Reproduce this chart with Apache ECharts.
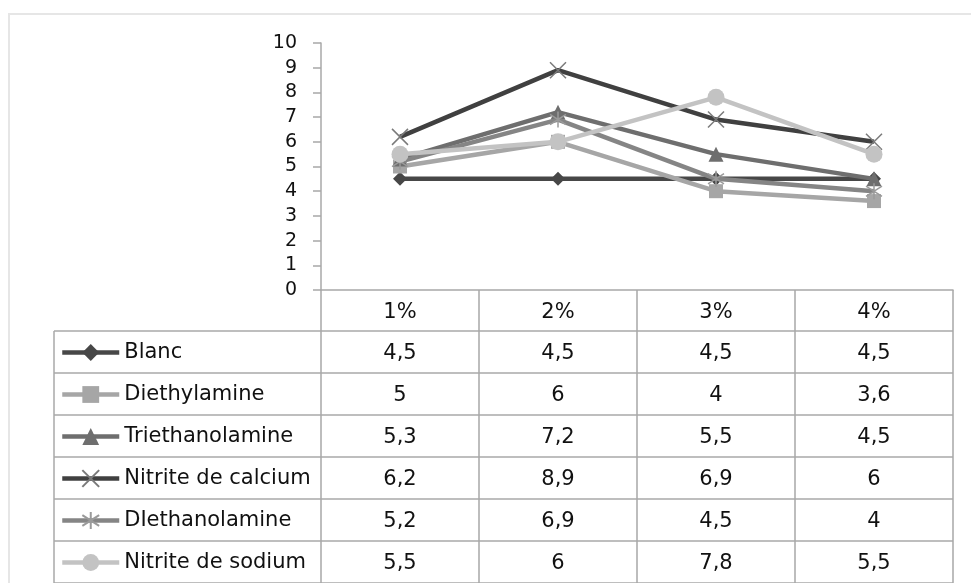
<!DOCTYPE html>
<html>
<head>
<meta charset="utf-8">
<script src="https://cdn.jsdelivr.net/npm/echarts@6/dist/echarts.min.js"></script>
<style>
  html, body { margin: 0; padding: 0; background: #ffffff; }
  #chart { width: 971px; height: 583px; }
</style>
</head>
<body>
<div id="chart"></div>
<script>
// Dosage of each admixture (columns of the data table)
const categories = ['1%', '2%', '3%', '4%'];

// Series names, in table order
const seriesNames = ['Blanc', 'Diethylamine', 'Triethanolamine', 'Nitrite de calcium', 'DIethanolamine', 'Nitrite de sodium'];

// Values per series
const blanc = [4.5, 4.5, 4.5, 4.5];
const diethylamine = [5, 6, 4, 3.6];
const triethanolamine = [5.3, 7.2, 5.5, 4.5];
const nitriteCalcium = [6.2, 8.9, 6.9, 6];
const diethanolamine = [5.2, 6.9, 4.5, 4];
const nitriteSodium = [5.5, 6, 7.8, 5.5];

// Value axis range
const yMin = 0;
const yMax = 10;
const yStep = 1;

const seriesValues = [blanc, diethylamine, triethanolamine, nitriteCalcium, diethanolamine, nitriteSodium];

// Table geometry
const PLOT_TOP = 43;
const PLOT_BOTTOM_Y = 290;
const PLOT_LEFT = 321;
const PLOT_RIGHT_GAP = 18;
const HEADER_H = 41;
const ROW_H = 42;
const TABLE_LEFT = 54;
const TABLE_TOP = PLOT_BOTTOM_Y + HEADER_H;
const TABLE_FONT = 21;

const W = 971, H = 583;
const GRID_LINE = '#a8a8a8';
const FONT = 'DejaVu Sans';
const TEXT = '#111111';

const styles = [
  { color: '#474747', symbol: 'diamond', size: 14, stroke: false },
  { color: '#a6a6a6', symbol: 'rect', size: 14, stroke: false },
  { color: '#6e6e6e', symbol: 'triangle', size: 15, stroke: false },
  { color: '#404040', symbol: 'path://M0,0L10,10M10,0L0,10', size: 16, stroke: true, mark: '#7a7a7a' },
  { color: '#858585', symbol: 'path://M5,0L5,10M0.8,1.8L9.2,8.2M9.2,1.8L0.8,8.2', size: 16, stroke: true, mark: '#9a9a9a' },
  { color: '#c3c3c3', symbol: 'circle', size: 17, stroke: false }
];

const lineSeries = seriesNames.map((name, i) => {
  const s = styles[i];
  return {
    name: name,
    type: 'line',
    xAxisIndex: 0,
    yAxisIndex: 0,
    data: seriesValues[i],
    color: s.color,
    symbol: s.symbol,
    symbolSize: s.size,
    showAllSymbol: true,
    lineStyle: { color: s.color, width: 4.5 },
    itemStyle: s.stroke
      ? { color: s.mark, borderColor: s.mark, borderWidth: 1.5 }
      : { color: s.color, borderWidth: 0 },
    emphasis: { disabled: true },
    z: 3 + i
  };
});

// Cell values of the table body, placed through the table's category axes
const cellData = [];
seriesValues.forEach((vals, r) => {
  vals.forEach((v, c) => {
    cellData.push([c, r, String(v).replace('.', ',')]);
  });
});

const chart = echarts.init(document.getElementById('chart'), null, { renderer: 'canvas' });

const option = {
  backgroundColor: '#ffffff',
  animation: false,
  textStyle: { fontFamily: FONT },
  grid: [
    { left: PLOT_LEFT, right: PLOT_RIGHT_GAP, top: PLOT_TOP, bottom: H - PLOT_BOTTOM_Y, containLabel: false },
    { left: PLOT_LEFT, right: PLOT_RIGHT_GAP, top: TABLE_TOP, height: ROW_H * seriesNames.length, containLabel: false }
  ],
  xAxis: [
    {
      type: 'category',
      gridIndex: 0,
      data: categories,
      boundaryGap: true,
      axisLine: { show: true, lineStyle: { color: GRID_LINE, width: 1.5 } },
      axisTick: { show: true, inside: false, length: H - PLOT_BOTTOM_Y, lineStyle: { color: GRID_LINE, width: 1.5 } },
      axisLabel: { show: true, margin: 12, color: TEXT, fontFamily: FONT, fontSize: TABLE_FONT },
      splitLine: { show: false }
    },
    {
      type: 'category',
      gridIndex: 1,
      data: categories,
      boundaryGap: true,
      show: false
    }
  ],
  yAxis: [
    {
      type: 'value',
      gridIndex: 0,
      min: yMin,
      max: yMax,
      interval: yStep,
      axisLine: { show: true, lineStyle: { color: GRID_LINE, width: 1.5 } },
      axisTick: { show: true, length: 8, lineStyle: { color: GRID_LINE, width: 1.5 } },
      axisLabel: { margin: 24, color: TEXT, fontFamily: FONT, fontSize: 19 },
      splitLine: { show: false }
    },
    {
      type: 'category',
      gridIndex: 1,
      data: seriesNames,
      inverse: true,
      show: false
    }
  ],
  legend: {
    orient: 'vertical',
    left: 60,
    top: TABLE_TOP + 11,
    padding: 0,
    itemWidth: 57,
    itemHeight: TABLE_FONT,
    itemGap: ROW_H - TABLE_FONT,
    selectedMode: false,
    lineStyle: { width: 4.5 },
    textStyle: { color: TEXT, fontFamily: FONT, fontSize: TABLE_FONT, lineHeight: TABLE_FONT, padding: [0, 0, 0, 0] },
    data: seriesNames
  },
  series: lineSeries.concat([
    {
      name: 'cells',
      type: 'scatter',
      xAxisIndex: 1,
      yAxisIndex: 1,
      data: cellData,
      symbolSize: 0,
      silent: true,
      itemStyle: { opacity: 1 },
      label: {
        show: true,
        position: 'inside',
        offset: [0, 2],
        formatter: p => p.data[2],
        color: TEXT,
        opacity: 1,
        fontFamily: FONT,
        fontSize: TABLE_FONT
      }
    }
  ])
};

chart.setOption(option);

// Table rules and outer frame
const gridRect = chart.getModel().getComponent('grid', 0).coordinateSystem.getRect();
const tableRight = gridRect.x + gridRect.width;
const graphics = [];
const lineStyle = { stroke: GRID_LINE, lineWidth: 1.5 };
for (let i = 0; i <= seriesNames.length; i++) {
  const y = TABLE_TOP + i * ROW_H;
  graphics.push({ type: 'line', shape: { x1: TABLE_LEFT, y1: y, x2: tableRight, y2: y }, style: lineStyle, silent: true, z: 1 });
}
graphics.push({ type: 'line', shape: { x1: TABLE_LEFT, y1: TABLE_TOP, x2: TABLE_LEFT, y2: H }, style: lineStyle, silent: true, z: 1 });
graphics.push({ type: 'rect', shape: { x: 9, y: 14, width: W + 20, height: H + 20 }, style: { fill: 'none', stroke: '#e6e6e6', lineWidth: 2 }, silent: true, z: 0 });
chart.setOption({ graphic: graphics });
</script>
</body>
</html>
